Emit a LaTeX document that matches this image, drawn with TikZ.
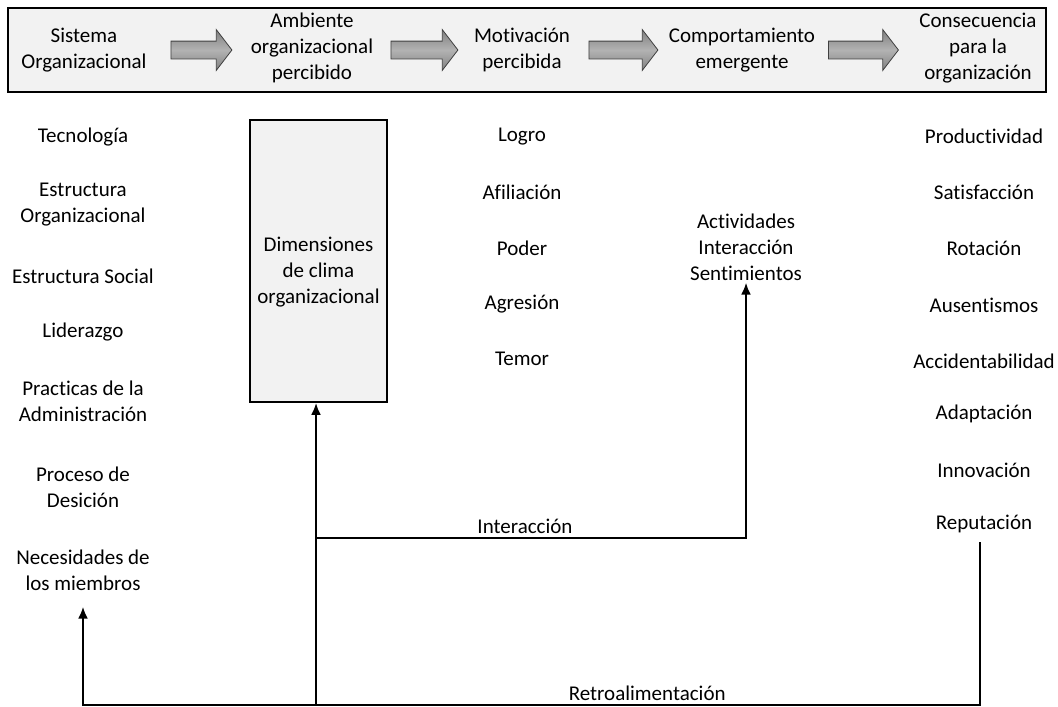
\documentclass[tikz,border=0pt]{standalone}
\usepackage{fontspec}
\setmainfont{Carlito}[Ligatures=NoCommon]
\usetikzlibrary{arrows.meta,calc,positioning,shapes.arrows}

\begin{document}
\begin{tikzpicture}[x=1pt,y=-1pt,>={Latex[length=12pt,width=10pt]},font=\fontsize{21}{26}\selectfont]
	\tikzstyle{txt} = [align=center, inner sep=2pt]
	\tikzstyle{garrow} = [draw=black!75, line width=0.8pt, single arrow, single arrow head extend=11.5pt, single arrow tip angle=105, inner sep=8.5pt, minimum width=0pt, top color=black!50, bottom color=black!50, middle color=black!30]
	\tikzstyle{line} = [line width=2.7pt]
	\tikzstyle{panel} = [draw, fill=black!5, line width=1.6pt, inner sep=0pt]
	
	\useasboundingbox (0,0) rectangle (1058,707);
	
	\node [panel, minimum width=1038pt, minimum height=84pt] (head) at (527,50) {};
	
	\node [txt] (sis) at (84,50) {Sistema\\Organizacional};
	\node [txt] (amb) at (312,48) {Ambiente\\organizacional\\percibido};
	\node [txt] (mot) at (522,50) {Motivación\\percibida};
	\node [txt] (com) at (742,50) {Comportamiento\\emergente};
	\node [txt] (con) at (978,48) {Consecuencia\\para la\\organización};
	
	\node [garrow, minimum height=61pt] (a1) at (198,50) {};
	\node [garrow, minimum height=67pt] (a2) at (421,50) {};
	\node [garrow, minimum height=69pt] (a3) at (620,50) {};
	\node [garrow, minimum height=70pt] (a4) at (860,50) {};
	
	\node [txt] (tec) at (83,137) {Tecnología};
	\node [txt] (eor) at (83,205) {Estructura\\Organizacional};
	\node [txt] (eso) at (83,276) {Estructura Social};
	\node [txt] (lid) at (83,332) {Liderazgo};
	\node [txt] (pra) at (83,401) {Practicas de la\\Administración};
	\node [txt] (pro) at (83,487) {Proceso de\\Desición};
	\node [txt] (nec) at (83,570) {Necesidades de\\los miembros};
	
	\node [panel, minimum width=137pt, minimum height=282pt] (dim) at (318.5,261) {};
	\node [txt] (dimtxt) at (318.5,272) {Dimensiones\\de clima\\organizacional};
	
	\node [txt] (log) at (522,137) {Logro};
	\node [txt] (afi) at (522,192) {Afiliación};
	\node [txt] (pod) at (522,248) {Poder};
	\node [txt] (agr) at (522,304) {Agresión};
	\node [txt] (tem) at (522,359) {Temor};
	
	\node [txt] (act) at (746,247) {Actividades\\Interacción\\Sentimientos};
	
	\node [txt] (prd) at (984,136) {Productividad};
	\node [txt] (sat) at (984,192) {Satisfacción};
	\node [txt] (rot) at (984,248) {Rotación};
	\node [txt] (aus) at (984,305) {Ausentismos};
	\node [txt] (acc) at (984,361) {Accidentabilidad};
	\node [txt] (ada) at (984,414) {Adaptación};
	\node [txt] (inn) at (984,470) {Innovación};
	\node [txt] (rep) at (984,524) {Reputación};
	
	\coordinate (fb) at (316,705);
	\coordinate (ic) at (316,538);
	\coordinate (rt) at (980,542);
	\coordinate (rb) at (980,705);
	
	\draw [line, ->] (fb) -- (fb |- dim.south);
	\draw [line, ->] (ic) --node[above, pos=0.486]{Interacción} (ic -| act) -- (act.south);
	\draw [line, ->, shorten >=14pt] (rt) -- (rb) --node[above, pos=0.371]{Retroalimentación} (rb -| nec) -- (nec.south);
\end{tikzpicture}
\end{document}
